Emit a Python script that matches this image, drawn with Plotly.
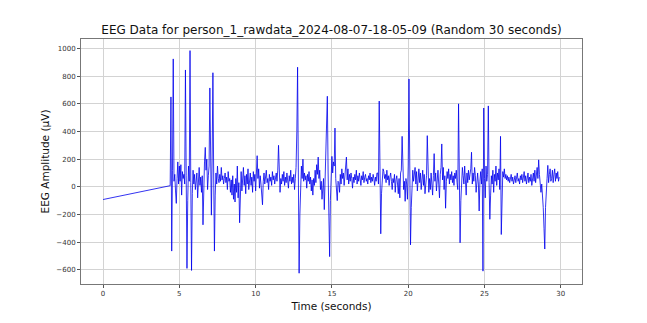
import numpy as np
import plotly.graph_objects as go

title_text = "EEG Data for person_1_rawdata_2024-08-07-18-05-09 (Random 30 seconds)"
x_label = "Time (seconds)"
y_label = "EEG Amplitude (µV)"

# first recorded sample, then a gap, then a continuous block sampled every 0.05 s
first_time = 0.0
first_value = -92
block_start = 4.40
block_dt = 0.05

block_values = [
    # 4.40 - 5.35
    8, 650, -465, 120, 925, 40, 90, -30, -120, 60, 180, 20, 150, 40, 160, -60, 110, 60, 90, 20,
    # 5.40 - 6.35
    845, 80, -590, -100, 150, 40, 985, 30, -605, -50, 120, 20, 90, -20, 60, 100, -80, 60, 140, 10,
    # 6.40 - 7.35
    70, -40, 80, -275, 60, 180, 285, 120, 200, -20, 80, 150, 715, -50, -205, 200, 825, 100, -465, -60,
    # 7.40 - 8.35
    100, 20, 150, 60, 30, 90, 40, 140, 50, 80, 20, 60, 100, 30, 70, -20, 110, 40, 60, -40,
    # 8.40 - 9.35
    50, -60, 80, -90, 20, -110, 60, -40, 150, -80, 30, -260, 40, 110, -30, 70, 140, 10, 80, -50,
    # 9.40 - 10.35
    90, 20, 130, -20, 60, 100, 10, 70, -40, 110, 40, 90, -30, 150, 225, 60, 130, -10, 80, 20,
    # 10.40 - 11.35
    -60, -130, 40, 100, 20, 80, 120, 30, 60, -20, 90, 40, 70, 10, 110, 50, 80, 20, 60, 100,
    # 11.40 - 12.35
    40, 120, 300, 90, -40, 60, 20, 90, 40, 110, 10, 70, 30, 100, 50, -10, 80, 40, 120, 20,
    # 12.40 - 13.35
    70, 30, 90, -20, 60, 140, 400, 865, 100, -625, -200, 80, 150, 60, 200, 40, 100, 50, 80, -10,
    # 13.40 - 14.35
    90, 40, 110, 20, 70, -30, 50, -60, 60, 10, 120, 30, 160, 90, 215, 60, 120, -20, 40, -90,
    # 14.40 - 15.35
    -40, 60, -165, 20, 110, 300, 655, 100, -200, -505, -100, 80, 220, 100, 180, 150, 425, 60, -60, -100,
    # 15.40 - 16.35
    40, 30, -40, 90, 20, 130, 60, 100, 10, 80, 150, 215, 50, 130, 20, 90, 40, 100, 60, -10,
    # 16.40 - 17.35
    70, 30, 90, 50, 120, 20, 80, 40, 100, 60, 10, 80, 50, 110, 30, 70, 90, 40, 60, 20,
    # 17.40 - 18.35
    80, 50, 100, 30, 70, 40, 90, 60, 10, 70, 40, 100, 100, 20, 620, 150, -340, -50, 90, 130,
    # 18.40 - 19.35
    110, 60, 90, 30, 120, 50, 80, 10, 70, 100, 40, -20, 60, 30, 90, -40, 50, 80, 20, -50,
    # 19.40 - 20.35
    60, -80, 100, 120, 365, 120, -20, 40, -105, 60, 20, -90, 150, 780, 200, -420, -150, 60, 120, 40,
    # 20.40 - 21.35
    90, 140, 20, 110, -30, 80, 130, 30, 100, -20, 60, 120, 10, 90, -50, 70, 80, 370, 80, -40,
    # 21.40 - 22.35
    60, -20, 100, 30, -60, 80, 240, 40, 100, -30, 60, 120, 20, -80, 90, 140, 310, 50, 140, -20,
    # 22.40 - 23.35
    80, -155, 40, 110, 60, 130, 20, 90, 50, 110, 30, 80, 10, 100, 60, 120, 30, -20, 600, 100,
    # 23.40 - 24.35
    -405, -100, 60, 140, 80, 20, 150, 60, -60, 100, 30, 120, 50, 90, 130, 250, 20, 100, 40, 140,
    # 24.40 - 25.35
    80, -40, 60, 100, 20, -175, 40, 110, 20, 130, -610, 570, 60, -80, 150, 40, 90, 585, 30, -235,
    # 25.40 - 26.35
    -60, 80, 20, 120, -40, 90, 40, 150, 10, 100, 50, 130, -20, 365, -345, 60, 110, 70, 130, 60,
    # 26.40 - 27.35
    90, 50, 80, 40, 70, 30, 60, 90, 40, 70, 20, 60, 80, 30, 70, 100, 40, 60, 20, 80,
    # 27.40 - 28.35
    50, 90, 30, 70, 110, 40, 80, 20, 60, 100, 30, 70, 40, 90, 10, 60, 100, 40, 120, 30,
    # 28.40 - 29.35
    80, 140, 60, 195, 90, 40, -40, 20, -40, -150, -300, -450, -150, 20, 60, 155, 30, 90, 130, 40,
    # 29.40 - 29.90
    60, 120, 30, 90, 130, 40, 100, 60, 110, 40, 70,
]

x_ticks = [0, 5, 10, 15, 20, 25, 30]
y_ticks = [-600, -400, -200, 0, 200, 400, 600, 800, 1000]

block_times = block_start + block_dt * np.arange(len(block_values))
times = np.concatenate([[first_time], block_times])
values = np.concatenate([[first_value], np.array(block_values, dtype=float)])

fig = go.Figure()
fig.add_trace(go.Scatter(
    x=times, y=values, mode="lines",
    line=dict(color="#0000ee", width=0.8),
    showlegend=False,
))

font_family = "DejaVu Sans"
# the page body adds an 8 px offset, so the figure is sized to fit inside it
fig.update_layout(
    width=639, height=315,
    margin=dict(l=73, r=65, t=31, b=36),
    paper_bgcolor="white", plot_bgcolor="white",
    font=dict(family=font_family, color="#222222"),
    title=dict(text=title_text, x=323.5 / 639, xanchor="center",
               y=1 - 22 / 315, yanchor="middle", yref="container",
               font=dict(size=12, family=font_family, color="#111111")),
)
fig.update_xaxes(
    range=[-1.445, 31.39], tickvals=x_ticks, ticktext=[str(v) for v in x_ticks],
    showgrid=True, gridcolor="#d3d3d3", gridwidth=1, zeroline=False,
    showline=True, linecolor="#777777", linewidth=1, mirror=True,
    ticks="outside", ticklen=3, tickcolor="#555555",
    tickfont=dict(size=7, family=font_family, color="#333333"),
    title=dict(text=x_label, font=dict(size=10.5, family=font_family, color="#111111"), standoff=5),
)
fig.update_yaxes(
    range=[-703, 1069], tickvals=y_ticks,
    ticktext=[("\u2212" + str(-v)) if v < 0 else str(v) for v in y_ticks],
    showgrid=True, gridcolor="#d3d3d3", gridwidth=1, zeroline=False,
    showline=True, linecolor="#777777", linewidth=1, mirror=True,
    ticks="outside", ticklen=3, tickcolor="#555555",
    tickfont=dict(size=7, family=font_family, color="#333333"),
    title=dict(text=y_label, font=dict(size=10.5, family=font_family, color="#111111"), standoff=4),
)

fig.write_html("out.html")
